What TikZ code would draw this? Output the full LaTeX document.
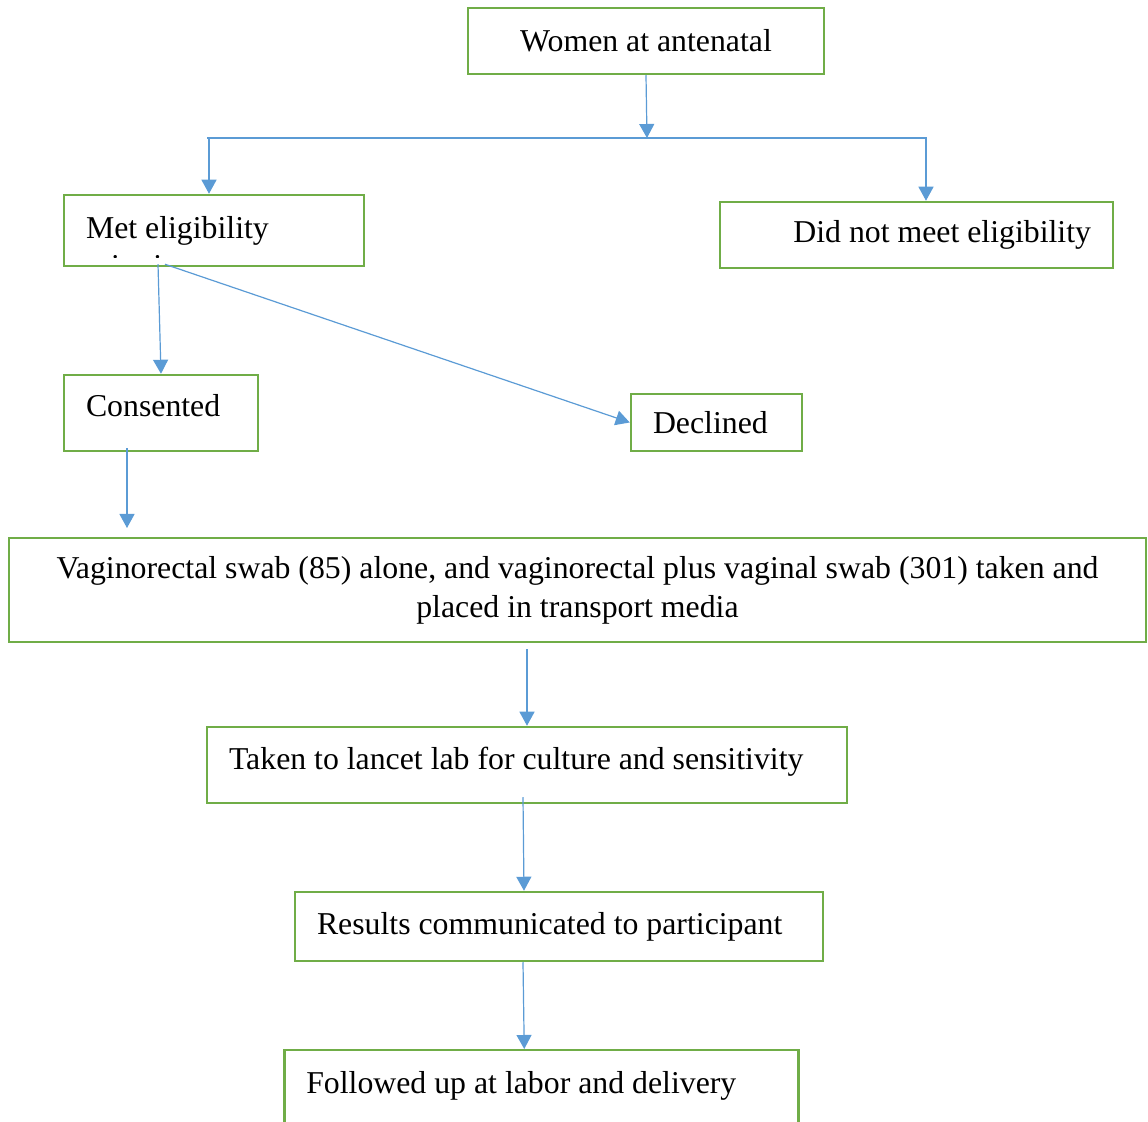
\documentclass[tikz,border=0pt]{standalone}
\usepackage{fontspec}
\setmainfont{Liberation Serif}
\usetikzlibrary{arrows.meta}
\definecolor{boxgreen}{HTML}{70AD47}
\definecolor{arrblue}{HTML}{5B9BD5}
\tikzset{
  box/.style={draw=boxgreen, line width=1.25pt, rectangle, inner sep=0pt},
  lbox/.style={box, align=flush left},
  link/.style={draw=arrblue, line width=0.6pt},
  arr/.style={link, -{Triangle[width=7.5pt,length=7pt]}}
}
\begin{document}
\begin{tikzpicture}[x=0.5pt, y=-0.5pt]
  \fontsize{15.9}{19.5}\selectfont
  \useasboundingbox (0,0) rectangle (1148,1122);
  % boxes
  \node[box, minimum width=178pt, minimum height=33pt] (women) at (646,41) {Women at antenatal};
  \node[lbox, minimum width=150pt, minimum height=35.5pt, text width=128pt] (met) at (214,230.5) {Met eligibility};
  \begin{scope}
    \clip (64,195) rectangle (364,258);
    \node[anchor=base west, inner sep=0pt] (crit) at (86,277) {criteria};
  \end{scope}
  \node[box, align=flush right, minimum width=196.5pt, minimum height=33pt, text width=174.5pt] (notmet) at (916.5,235) {Did not meet eligibility};
  \node[lbox, minimum width=97pt, minimum height=38pt, text width=75pt, text depth=8pt] (consent) at (161,413) {Consented};
  \node[lbox, minimum width=85.5pt, minimum height=28.5pt, text width=63.5pt] (declined) at (716.5,422.5) {Declined};
  \node[box, align=flush center, minimum width=568.5pt, minimum height=52pt] (swab) at (577.5,590)
    {Vaginorectal swab (85) alone, and vaginorectal plus vaginal swab (301) taken and\\placed in transport media};
  \node[lbox, minimum width=320pt, minimum height=38pt, text width=298pt, text depth=6.5pt] (lab) at (527,765) {Taken to lancet lab for culture and sensitivity};
  \node[lbox, minimum width=264pt, minimum height=34.5pt, text width=242pt] (results) at (559,926.5) {Results communicated to participant};
  \node[lbox, anchor=north west, inner xsep=11pt, inner ysep=10.5pt, text width=235pt, text height=11pt, text depth=50pt] (followup) at (283,1049) {Followed up at labor and delivery};
  % junction
  \coordinate (jl) at (207,138);
  \coordinate (jr) at (927,138);
  \coordinate (jm) at (647,138);
  \coordinate (bl) at (209,138);
  \coordinate (br) at (926,138);
  \coordinate (swabin) at (127,528);
  \draw[link] (jl) -- (jr);
  \draw[arr] (women.south) -- (jm);
  \draw[arr] (bl) -- (bl |- met.north);
  \draw[arr] (br) -- (br |- notmet.north);
  \draw[arr] ([xshift=-28pt,yshift=1.5pt]met.south) -- (consent.north);
  \draw[arr] ([xshift=-24.5pt,yshift=1.5pt]met.south) -- (declined.west);
  \draw[arr] ([xshift=-17pt,yshift=2pt]consent.south) -- (swabin);
  \draw[arr] ([yshift=-3pt]swab.south -| lab.north) -- (lab.north);
  \draw[arr] ([xshift=-2pt,yshift=3.5pt]lab.south) -- ([xshift=-17.5pt]results.north);
  \draw[arr] ([xshift=-18pt]results.south) -- ([xshift=-8.5pt]followup.north);
\end{tikzpicture}
\end{document}
